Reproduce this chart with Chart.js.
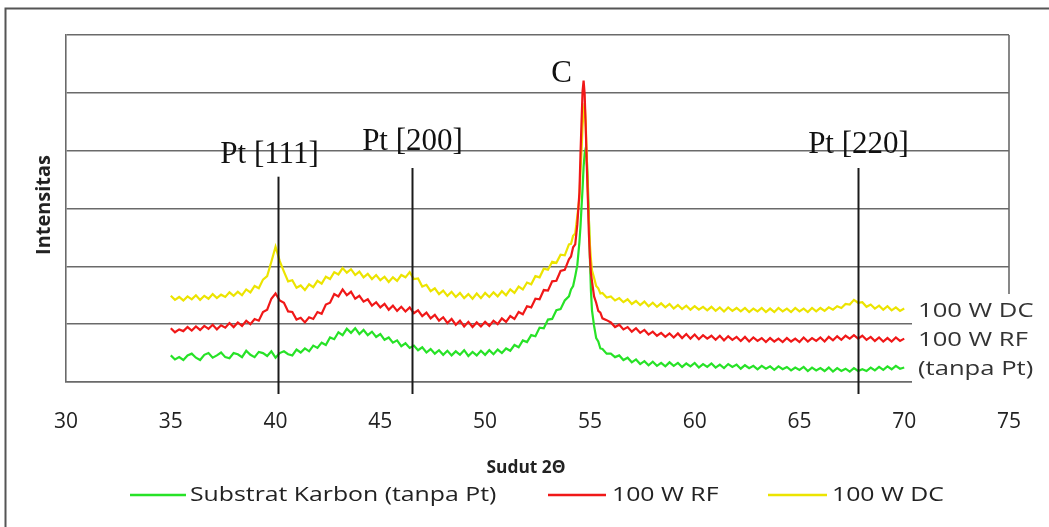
<!DOCTYPE html>
<html><head><meta charset="utf-8">
<script src="https://cdn.jsdelivr.net/npm/chart.js@4"></script>
<style>html,body{margin:0;padding:0;background:#fff;overflow:hidden}#c{display:block}</style>
</head><body>
<canvas id="c" width="1049" height="527"></canvas>
<script>
// 2-theta sample positions (degrees)
const angles = [
35.0,35.2,35.4,35.6,35.8,36.0,36.2,36.4,36.6,36.8,
37.0,37.2,37.4,37.6,37.8,38.0,38.2,38.4,38.6,38.8,
39.0,39.2,39.4,39.6,39.8,40.0,40.2,40.4,40.6,40.8,
41.0,41.2,41.4,41.6,41.8,42.0,42.2,42.4,42.6,42.8,
43.0,43.2,43.4,43.6,43.8,44.0,44.2,44.4,44.6,44.8,
45.0,45.2,45.4,45.6,45.8,46.0,46.2,46.4,46.6,46.8,
47.0,47.2,47.4,47.6,47.8,48.0,48.2,48.4,48.6,48.8,
49.0,49.2,49.4,49.6,49.8,50.0,50.2,50.4,50.6,50.8,
51.0,51.2,51.4,51.6,51.8,52.0,52.2,52.4,52.6,52.8,
53.0,53.2,53.4,53.6,53.8,
54.0,54.1,54.2,54.3,54.4,54.5,54.55,54.6,54.65,54.7,54.75,54.8,54.85,54.9,54.95,55.0,55.05,55.1,55.2,55.3,55.4,55.5,55.6,55.8,
56.0,56.2,56.4,56.6,56.8,57.0,57.2,57.4,57.6,57.8,
58.0,58.2,58.4,58.6,58.8,59.0,59.2,59.4,59.6,59.8,
60.0,60.2,60.4,60.6,60.8,61.0,61.2,61.4,61.6,61.8,
62.0,62.2,62.4,62.6,62.8,63.0,63.2,63.4,63.6,63.8,
64.0,64.2,64.4,64.6,64.8,65.0,65.2,65.4,65.6,65.8,
66.0,66.2,66.4,66.6,66.8,67.0,67.2,67.4,67.6,67.8,
68.0,68.2,68.4,68.6,68.8,69.0,69.2,69.4,69.6,69.8,
70.0];

// Substrat Karbon (tanpa Pt)
const substrat = [
.46,.39,.43,.38,.46,.49,.42,.38,.47,.50,
.42,.46,.51,.43,.41,.50,.48,.43,.54,.47,
.43,.52,.50,.45,.53,.42,.50,.53,.48,.46,
.56,.51,.58,.53,.63,.59,.68,.64,.77,.74,
.86,.81,.92,.85,.93,.83,.90,.81,.87,.78,
.83,.73,.77,.68,.72,.62,.67,.59,.63,.55,
.60,.51,.57,.49,.55,.47,.54,.46,.53,.47,
.55,.45,.52,.46,.54,.47,.55,.48,.56,.50,
.58,.54,.64,.60,.72,.69,.81,.79,.94,.93,
1.08,1.09,1.24,1.26,1.41,
1.48,1.60,1.66,1.83,2.02,2.42,2.68,3.02,3.34,3.72,3.95,4.04,3.88,3.45,2.85,2.15,1.58,1.24,0.97,0.76,0.70,0.58,0.57,0.49,
.49,.43,.46,.38,.42,.34,.39,.31,.36,.29,
.35,.28,.33,.27,.34,.28,.33,.26,.32,.27,
.33,.25,.31,.26,.32,.25,.30,.24,.31,.26,
.30,.23,.29,.24,.28,.22,.28,.23,.27,.21,
.27,.22,.26,.20,.25,.21,.26,.19,.25,.20,
.24,.19,.25,.18,.24,.19,.23,.18,.24,.19,
.22,.19,.25,.20,.26,.21,.27,.22,.28,.23,
.25];

// 100 W RF
const rf = [
.93,.86,.91,.88,.95,.89,.96,.90,.97,.92,
.99,.91,.98,.94,1.02,.95,1.03,.97,1.06,1.00,
1.09,1.06,1.21,1.25,1.44,1.53,1.41,1.37,1.22,1.21,
1.08,1.11,1.03,1.12,1.09,1.21,1.18,1.34,1.37,1.52,
1.48,1.60,1.50,1.56,1.44,1.49,1.39,1.43,1.32,1.38,
1.29,1.35,1.25,1.32,1.23,1.30,1.22,1.29,1.19,1.24,
1.14,1.20,1.10,1.16,1.06,1.12,1.02,1.09,.99,1.06,
.96,1.04,.95,1.03,.96,1.04,.97,1.06,1.00,1.10,
1.04,1.14,1.09,1.21,1.17,1.31,1.29,1.44,1.43,1.59,
1.58,1.74,1.75,1.92,1.94,
2.12,2.17,2.33,2.38,2.72,3.28,3.92,4.48,5.02,5.21,4.98,4.42,3.78,3.22,2.58,2.17,1.88,1.74,1.48,1.37,1.23,1.20,1.10,1.07,
1.03,.95,.99,.91,.95,.87,.93,.85,.90,.82,
.87,.80,.85,.78,.84,.77,.84,.76,.83,.75,
.82,.74,.81,.75,.80,.73,.80,.72,.79,.73,
.78,.71,.78,.70,.77,.71,.76,.69,.76,.70,
.75,.69,.76,.70,.75,.69,.77,.70,.76,.71,
.77,.70,.78,.72,.79,.73,.80,.75,.81,.75,
.80,.73,.78,.71,.77,.70,.76,.70,.77,.71,
.75];

// 100 W DC
const dc = [
1.49,1.42,1.47,1.41,1.48,1.43,1.50,1.42,1.49,1.44,
1.52,1.45,1.51,1.47,1.55,1.49,1.56,1.50,1.60,1.55,
1.66,1.62,1.77,1.83,2.08,2.34,2.09,1.91,1.74,1.76,
1.63,1.67,1.59,1.69,1.64,1.75,1.70,1.82,1.78,1.90,
1.86,1.97,1.89,1.95,1.85,1.91,1.81,1.87,1.78,1.85,
1.76,1.82,1.73,1.81,1.75,1.85,1.81,1.90,1.78,1.79,
1.65,1.68,1.57,1.62,1.52,1.58,1.49,1.56,1.47,1.54,
1.45,1.52,1.44,1.53,1.45,1.54,1.47,1.55,1.48,1.57,
1.50,1.60,1.54,1.65,1.60,1.72,1.69,1.83,1.81,1.96,
1.94,2.08,2.06,2.20,2.19,
2.38,2.39,2.53,2.57,2.87,3.18,3.62,3.98,4.42,4.68,4.82,4.48,3.92,3.28,2.82,2.38,2.12,1.93,1.80,1.66,1.62,1.53,1.54,1.46,
1.48,1.41,1.45,1.38,1.43,1.35,1.40,1.33,1.39,1.31,
1.37,1.30,1.36,1.29,1.35,1.27,1.33,1.26,1.32,1.25,
1.31,1.25,1.30,1.24,1.30,1.23,1.29,1.22,1.29,1.23,
1.28,1.22,1.28,1.21,1.27,1.22,1.28,1.21,1.27,1.21,
1.28,1.22,1.27,1.21,1.28,1.22,1.27,1.21,1.28,1.22,
1.28,1.23,1.29,1.25,1.31,1.28,1.35,1.34,1.42,1.37,
1.38,1.30,1.34,1.27,1.32,1.25,1.31,1.24,1.29,1.23,
1.27];

const seriesNames = ['Substrat Karbon (tanpa Pt)', '100 W RF', '100 W DC'];
const sideLabels = ['100 W DC', '100 W RF', '(tanpa Pt)'];
const xTickValues = [30,35,40,45,50,55,60,65,70,75];
const peakNames = ['Pt [111]', 'Pt [200]', 'Pt [220]'];
const peakAngles = [40.1, 46.5, 67.8];
const carbonName = 'C';
const carbonAngle = 54.6;

const colors = ['#27e227', '#f01818', '#ece400'];
const FONT = '"Open Sans", "Liberation Sans", sans-serif';
const SERIF = '"Liberation Serif", "DejaVu Serif", serif';

function pts(ys) { return ys.map((y, i) => ({ x: angles[i], y })); }

function txt(ctx, s, x, y, font, color, align, sx, base) {
  ctx.save();
  ctx.font = font; ctx.fillStyle = color;
  ctx.textAlign = align || 'left';
  ctx.textBaseline = base || 'middle';
  ctx.translate(x, y); ctx.scale(sx || 1, 1);
  ctx.fillText(s, 0, 0);
  ctx.restore();
}

const decor = {
  id: 'decor',
  beforeDatasetsDraw(chart) {
    const { ctx, chartArea: a } = chart;
    ctx.save();
    ctx.strokeStyle = '#6a6a6a'; ctx.lineWidth = 1.6;
    ctx.beginPath(); ctx.moveTo(a.right, a.top); ctx.lineTo(a.right, a.bottom); ctx.stroke();
    ctx.restore();
  },
  afterDraw(chart) {
    const { ctx, chartArea: a, scales: { x, y } } = chart;
    ctx.save();
    // peak marker lines
    const tops = [3.55, 3.70, 3.70];
    const bases = [3.79, 4.01, 3.96];
    ctx.strokeStyle = '#1a1a1a'; ctx.lineWidth = 2;
    peakAngles.forEach((p, i) => {
      const px = Math.round(x.getPixelForValue(p)) + 0.5;
      ctx.beginPath(); ctx.moveTo(px, y.getPixelForValue(tops[i])); ctx.lineTo(px, y.getPixelForValue(0) + 12); ctx.stroke();
      txt(ctx, peakNames[i], px - (i === 0 ? 9 : 0), y.getPixelForValue(bases[i]), '31px ' + SERIF, '#111', 'center', 1, 'alphabetic');
    });
    txt(ctx, carbonName, x.getPixelForValue(carbonAngle) - 20, y.getPixelForValue(5.19), '31px ' + SERIF, '#111', 'center', 1, 'alphabetic');

    // white label box at right end
    ctx.fillStyle = '#fff';
    ctx.fillRect(912, 294, 137, 98);
    const sy = [311, 340, 369];
    sideLabels.forEach((s, i) => txt(ctx, s, 918, sy[i], '20px ' + FONT, '#333', 'left', 1.28));

    // legend
    const lx = [[130, 186, 190], [548, 606, 612], [768, 827, 832]];
    seriesNames.forEach((s, i) => {
      ctx.strokeStyle = colors[i]; ctx.lineWidth = 2.5;
      ctx.beginPath(); ctx.moveTo(lx[i][0], 495); ctx.lineTo(lx[i][1], 495); ctx.stroke();
      txt(ctx, s, lx[i][2], 495, '20px ' + FONT, '#222', 'left', 1.24);
    });

    // axis titles
    txt(ctx, 'Sudut 2Θ', 526, 468, 'bold 17px ' + FONT, '#222', 'center', 1.02);
    ctx.save();
    ctx.translate(45, 205); ctx.rotate(-Math.PI / 2);
    txt(ctx, 'Intensitas', 0, 0, 'bold 19px ' + FONT, '#222', 'center', 1.05);
    ctx.restore();

    // outer frame
    ctx.strokeStyle = '#555'; ctx.lineWidth = 2;
    ctx.beginPath(); ctx.moveTo(5.5, 527); ctx.lineTo(5.5, 8.5); ctx.lineTo(1049, 8.5); ctx.stroke();
    ctx.restore();
  }
};

new Chart(document.getElementById('c'), {
  type: 'line',
  data: {
    datasets: [
      { label: seriesNames[1], data: pts(rf), borderColor: colors[1], order: 1 },
      { label: seriesNames[2], data: pts(dc), borderColor: colors[2], order: 2 },
      { label: seriesNames[0], data: pts(substrat), borderColor: colors[0], order: 3 }
    ].map(d => Object.assign(d, { borderWidth: 2.2, pointRadius: 0, tension: 0, fill: false }))
  },
  options: {
    responsive: false, animation: false, devicePixelRatio: 1,
    layout: { padding: { left: 66, right: 40, top: 35, bottom: 0 } },
    plugins: { legend: { display: false }, tooltip: { enabled: false } },
    scales: {
      x: {
        type: 'linear', min: 30, max: 75,
        afterBuildTicks: s => { s.ticks = xTickValues.map(v => ({ value: v })); },
        afterFit: s => { s.height = 145; },
        grid: { display: false, drawTicks: false },
        border: { display: true, color: '#6a6a6a', width: 1.6 },
        ticks: { padding: 27, color: '#222', font: { family: FONT, size: 21 } }
      },
      y: {
        min: 0, max: 6,
        afterFit: s => { s.width = 0; },
        ticks: { display: false, stepSize: 1 },
        grid: { color: '#6a6a6a', lineWidth: 1.6, drawTicks: false },
        border: { display: true, color: '#6a6a6a', width: 1.6 }
      }
    }
  },
  plugins: [decor]
});
</script>
</body></html>
